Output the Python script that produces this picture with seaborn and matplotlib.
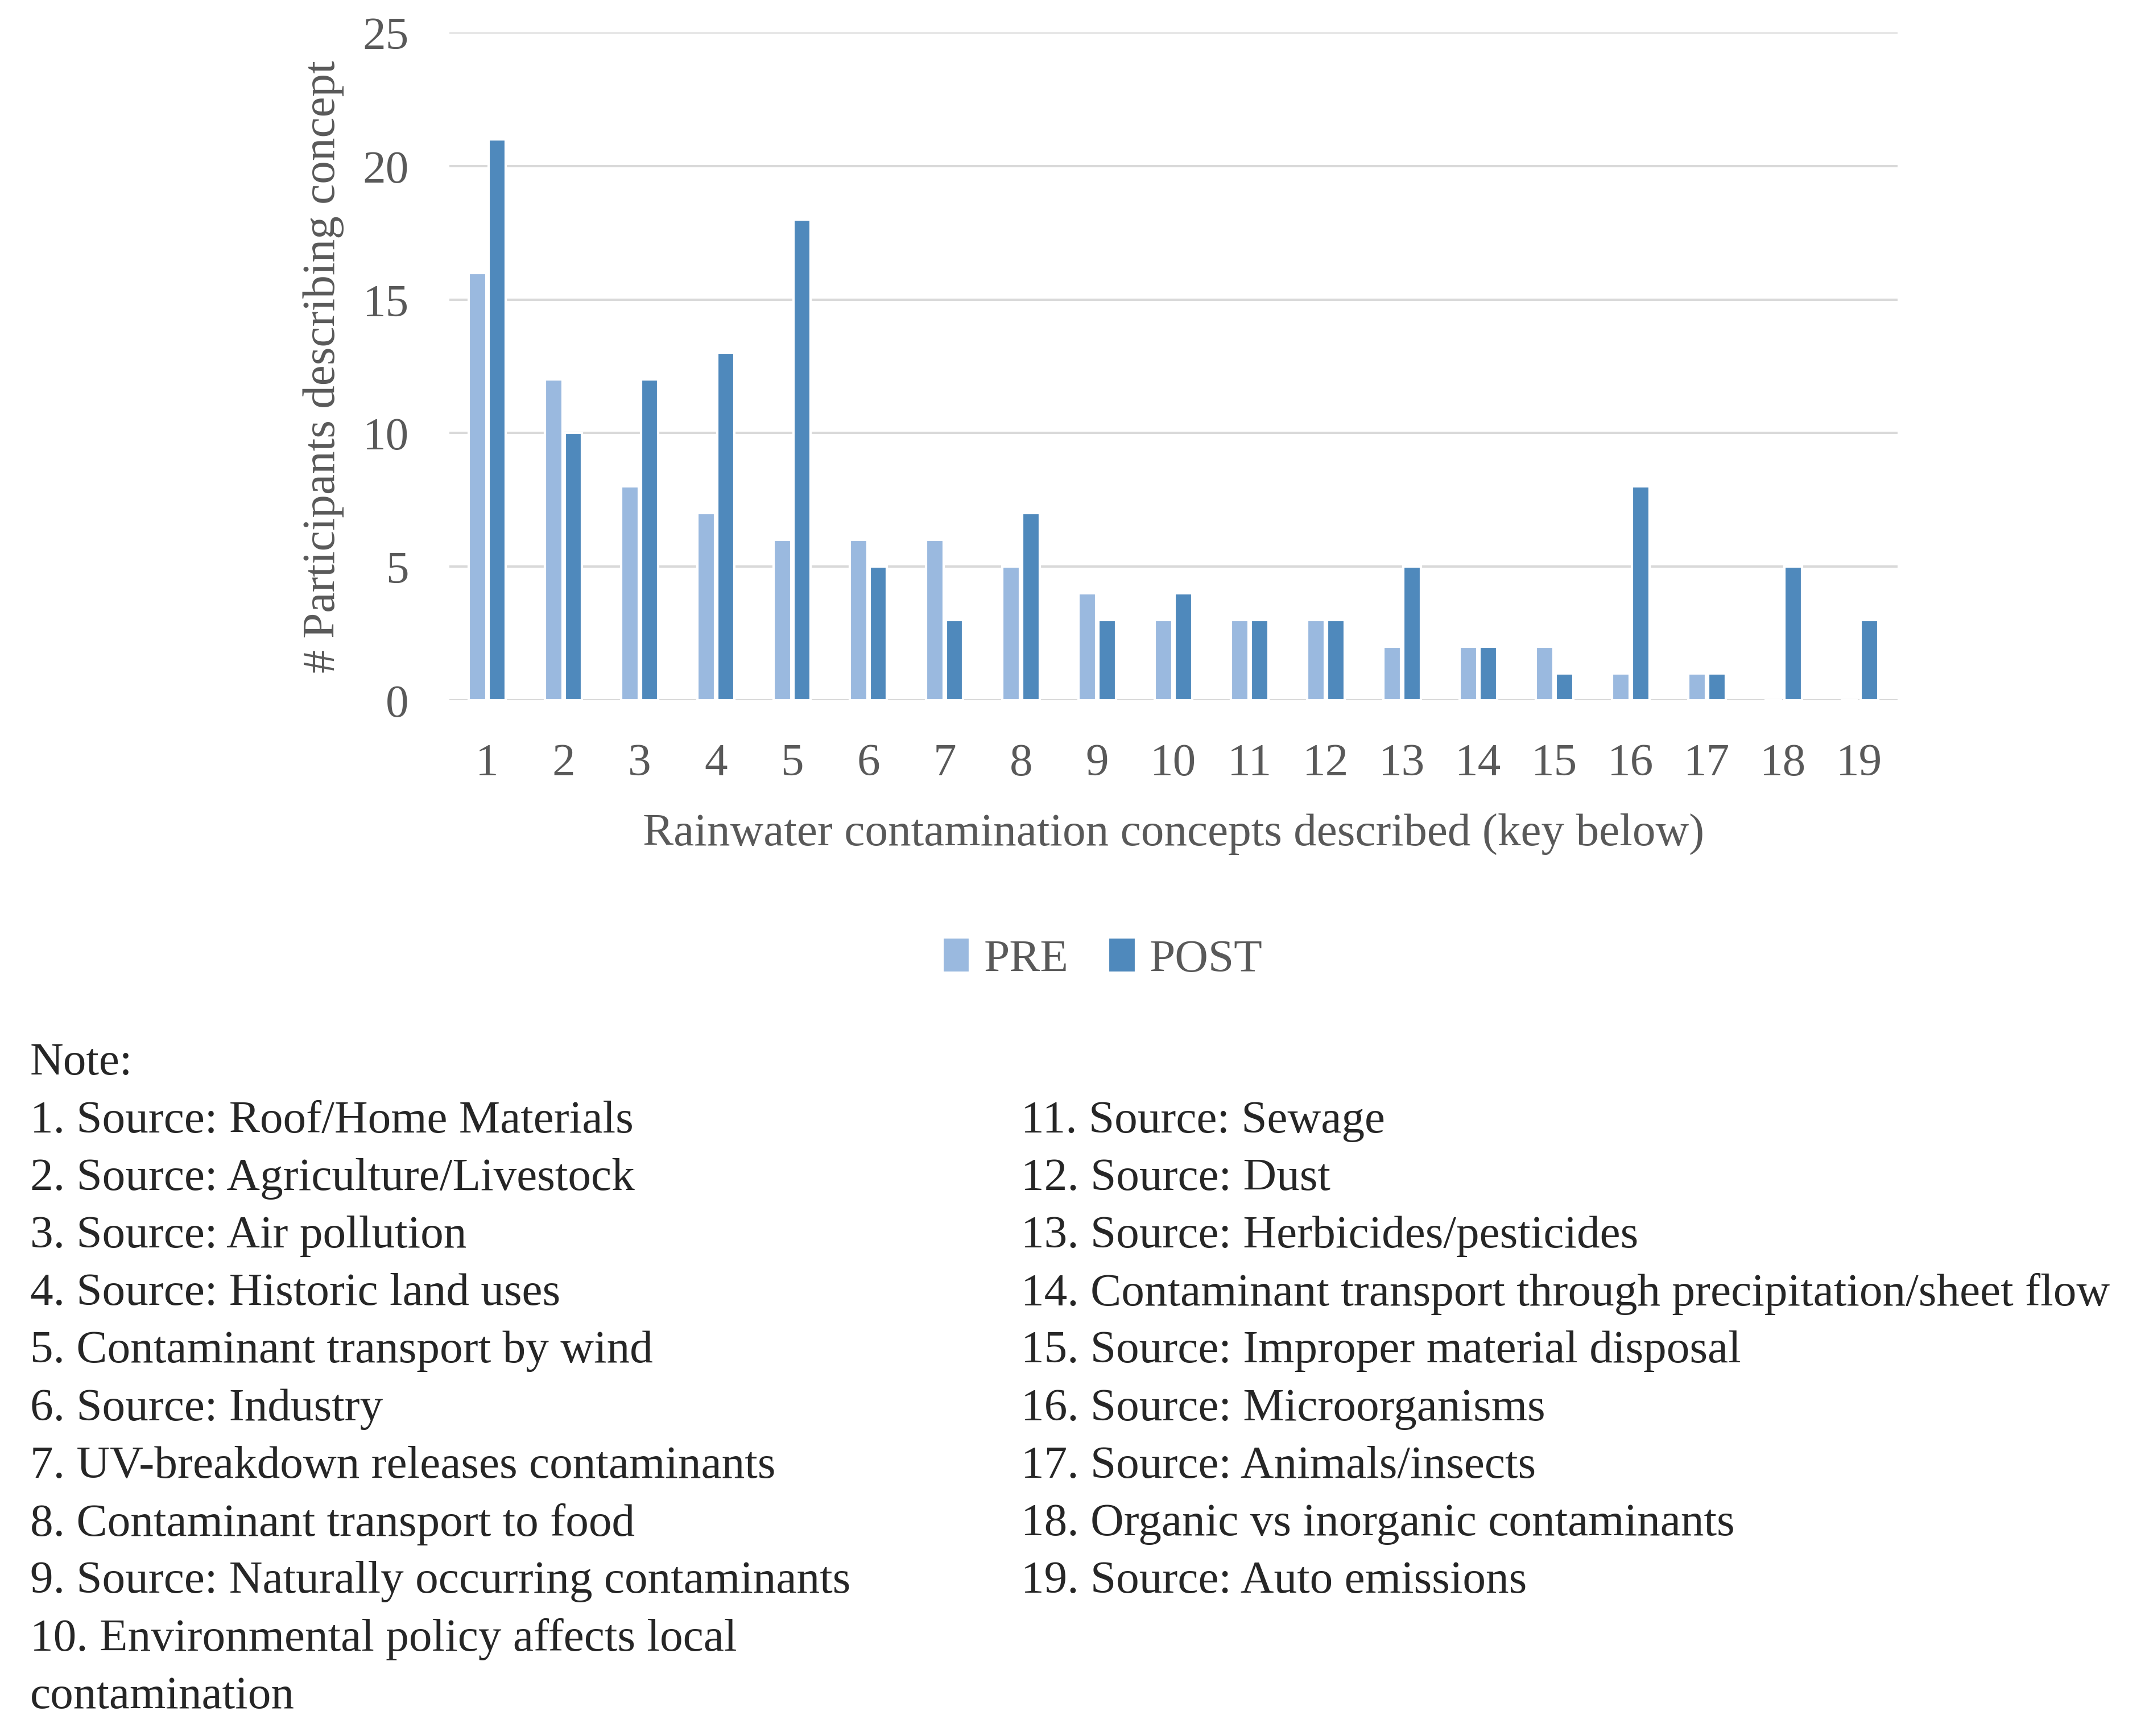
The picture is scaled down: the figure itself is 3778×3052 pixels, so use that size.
import numpy as np
import pandas as pd
import matplotlib
matplotlib.use('Agg')
import matplotlib.pyplot as plt
import seaborn as sns

## data
concepts = [str(i) for i in range(1, 20)]
pre_counts = [16, 12, 8, 7, 6, 6, 6, 5, 4, 3, 3, 3, 2, 2, 2, 1, 1, 0, 0]
post_counts = [21, 10, 12, 13, 18, 5, 3, 7, 3, 4, 3, 3, 5, 2, 1, 8, 1, 5, 3]
phases = ['PRE', 'POST']
y_ticks = [0, 5, 10, 15, 20, 25]

note_left = [
    '1. Source: Roof/Home Materials',
    '2. Source: Agriculture/Livestock',
    '3. Source: Air pollution',
    '4. Source: Historic land uses',
    '5. Contaminant transport by wind',
    '6. Source: Industry',
    '7. UV-breakdown releases contaminants',
    '8. Contaminant transport to food',
    '9. Source: Naturally occurring contaminants',
    '10. Environmental policy affects local',
    'contamination',
]
note_right = [
    '11. Source: Sewage',
    '12. Source: Dust',
    '13. Source: Herbicides/pesticides',
    '14. Contaminant transport through precipitation/sheet flow',
    '15. Source: Improper material disposal',
    '16. Source: Microorganisms',
    '17. Source: Animals/insects',
    '18. Organic vs inorganic contaminants',
    '19. Source: Auto emissions',
]

df = pd.DataFrame({
    'concept': concepts * 2,
    'count': pre_counts + post_counts,
    'phase': ['PRE'] * len(concepts) + ['POST'] * len(concepts),
})

sns.set_style('white')
plt.rcParams['font.family'] = ['Liberation Serif', 'DejaVu Serif']
fs = 19.5

grey_txt = '#595959'
grid_col = '#D9D9D9'
pal = {'PRE': '#9AB9DF', 'POST': '#4F89BC'}

fig = plt.figure(figsize=(3778 / 300, 3053 / 300), dpi=300)
ax = fig.add_axes([0.209, 0.5965, 0.674, 0.3845])

sns.barplot(data=df, x='concept', y='count', hue='phase', hue_order=phases,
            order=concepts, palette=pal, width=0.52, gap=0.12,
            saturation=1, ax=ax, zorder=3)

ax.set_ylim(0, 25)
ax.set_yticks(y_ticks)
ax.set_xlim(-0.5, len(concepts) - 0.5)
for y in y_ticks:
    ax.axhline(y, color=grid_col, lw=1.0, zorder=1)
for s in ax.spines.values():
    s.set_visible(False)
ax.tick_params(axis='both', length=0, labelsize=fs, labelcolor=grey_txt)
ax.tick_params(axis='x', pad=18)
ax.tick_params(axis='y', pad=17)

ax.set_xlabel('Rainwater contamination concepts described (key below)',
              fontsize=fs, color=grey_txt)
ax.xaxis.label.set_va('center')
ax.xaxis.set_label_coords(0.5, -0.2)
ax.set_ylabel('# Participants describing concept', fontsize=fs, color=grey_txt)
ax.yaxis.label.set_va('center')
ax.yaxis.set_label_coords(-0.087, 0.5)

handles, labels = ax.get_legend_handles_labels()
ax.get_legend().remove()
fig.legend(handles, labels, loc='center', bbox_to_anchor=(0.513, 0.4475),
           ncol=2, frameon=False, fontsize=fs, labelcolor=grey_txt,
           handlelength=0.6, handleheight=0.8, handletextpad=0.3,
           columnspacing=0.85)

## key below the chart
fig.text(0.014, 1 - 776 / 1267, 'Note:', fontsize=fs, va='center')
for i, t in enumerate(note_left):
    fig.text(0.014, 1 - (818 + 42 * i) / 1267, t, fontsize=fs, va='center')
for i, t in enumerate(note_right):
    fig.text(0.475, 1 - (818 + 42 * i) / 1267, t, fontsize=fs, va='center')

fig.savefig('out.png', dpi=300, facecolor='white')
